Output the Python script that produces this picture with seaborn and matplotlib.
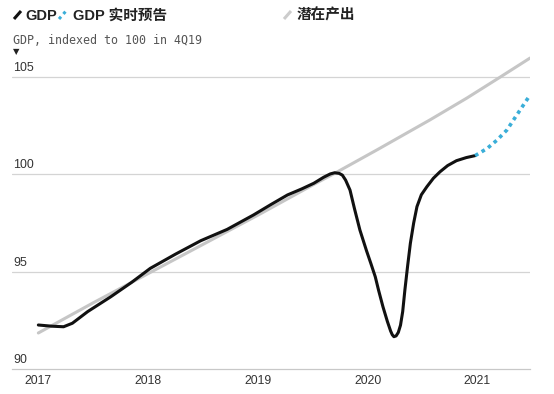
import numpy as np
import pandas as pd
import matplotlib.pyplot as plt
import matplotlib.transforms as mtransforms
from matplotlib.lines import Line2D
import seaborn as sns

# values (x in fractional years, GDP index 4Q19 = 100)
gdp_x = [2017.0, 2017.12, 2017.23, 2017.31, 2017.45, 2017.66, 2017.85, 2018.02,
         2018.25, 2018.48, 2018.72, 2018.96, 2019.12, 2019.27, 2019.40, 2019.51,
         2019.60, 2019.66, 2019.70, 2019.74, 2019.77, 2019.80, 2019.84, 2019.88,
         2019.93, 2019.99, 2020.03, 2020.07, 2020.10, 2020.14, 2020.18, 2020.21,
         2020.225, 2020.24, 2020.26, 2020.28, 2020.30, 2020.32, 2020.34, 2020.365,
         2020.39, 2020.42, 2020.45, 2020.49, 2020.54, 2020.60, 2020.66, 2020.73,
         2020.81, 2020.90, 2020.98]
gdp_y = [92.26, 92.20, 92.17, 92.35, 92.95, 93.71, 94.45, 95.17,
         95.90, 96.59, 97.17, 97.91, 98.45, 98.94, 99.25, 99.54,
         99.85, 100.02, 100.08, 100.05, 99.96, 99.70, 99.19, 98.25,
         97.14, 96.08, 95.42, 94.74, 94.05, 93.20, 92.45, 91.95,
         91.76, 91.66, 91.70, 91.88, 92.25, 92.95, 94.06, 95.30,
         96.46, 97.50, 98.34, 98.95, 99.36, 99.80, 100.13, 100.45,
         100.70, 100.86, 100.96]

nowcast_x = [2020.98, 2021.09, 2021.18, 2021.27, 2021.36, 2021.48]
nowcast_y = [100.96, 101.33, 101.76, 102.28, 103.05, 104.07]

potential_x = [2017.0, 2017.5, 2018.0, 2018.5, 2019.0, 2019.5, 2019.7, 2020.1,
               2020.57, 2020.9, 2021.21, 2021.48]
potential_y = [91.85, 93.40, 94.90, 96.40, 97.90, 99.45, 100.05, 101.30,
               102.80, 103.90, 105.00, 105.97]

year_ticks = [2017, 2018, 2019, 2020, 2021]
y_ticks = [90, 95, 100, 105]

sns.set_style("white")
plt.rcParams['font.family'] = ['Liberation Sans', 'Noto Sans CJK SC', 'DejaVu Sans']

fig = plt.figure(figsize=(5.54, 3.94), dpi=100)
ax = fig.add_axes([12 / 554, 25 / 394, 518 / 554, 315 / 394])

for y in y_ticks[1:]:
    ax.axhline(y, color='#d4d4d4', lw=0.9, zorder=0)

sns.lineplot(x=potential_x, y=potential_y, ax=ax, color='#c6c6c6', lw=2.2,
             estimator=None, sort=False, zorder=2)
sns.lineplot(x=gdp_x, y=gdp_y, ax=ax, color='#111111', lw=2.2,
             estimator=None, sort=False, zorder=3)
sns.lineplot(x=nowcast_x, y=nowcast_y, ax=ax, color='#3aaed8', lw=2.6,
             estimator=None, sort=False, zorder=3, dashes=False)
ax.lines[-1].set_dashes((1.0, 1.1))
for ln in ax.lines:
    ln.set_solid_joinstyle('round')
    ln.set_solid_capstyle('round')

ax.set_xlim(2016.76, 2021.48)
ax.set_ylim(90, 106.18)

for s in ['top', 'right', 'left']:
    ax.spines[s].set_visible(False)
ax.spines['bottom'].set_color('#c8c8c8')
ax.spines['bottom'].set_linewidth(0.9)

ax.set_xticks(year_ticks)
ax.set_xticklabels([str(y) for y in year_ticks], fontsize=8.8, color='#333333')
ax.tick_params(axis='x', direction='in', length=3, color='#c8c8c8', pad=4)
ax.set_yticks([])
ax.set_xlabel('')
ax.set_ylabel('')

# y labels sit above their gridlines at the left edge
trans = mtransforms.blended_transform_factory(ax.transAxes, ax.transData)
trans = trans + mtransforms.ScaledTranslation(0, 3 / 100, fig.dpi_scale_trans)
for y in y_ticks:
    ax.text(0.002, y, str(y), transform=trans, ha='left', va='bottom',
            fontsize=8.9, color='#333333')

# header: legend row
def px(x, y):
    return x / 554, 1 - y / 394

def icon(x0, color, dashes=None):
    a = px(x0, 19)
    b = px(x0 + 7, 11)
    ln = Line2D([a[0], b[0]], [a[1], b[1]], transform=fig.transFigure,
                color=color, lw=2.2, solid_capstyle='butt')
    if dashes:
        ln.set_dashes(dashes)
    fig.add_artist(ln)

icon(14, '#111111')
fig.text(*px(25, 15.5), 'GDP', fontsize=10.5, fontweight='bold', color='#222222',
         va='center', ha='left')
icon(59, '#3aaed8', (1.0, 1.2))
fig.text(*px(73, 15.5), 'GDP 实时预告', fontsize=10.5, fontweight='bold',
         color='#222222', va='center', ha='left')
icon(284, '#cccccc')
fig.text(*px(297, 15.5), '潜在产出', fontsize=10.5, fontweight='bold',
         color='#222222', va='center', ha='left')

fig.text(*px(13, 40), 'GDP, indexed to 100 in 4Q19', fontsize=8.4,
         family='DejaVu Sans Mono', color='#555555', va='center', ha='left')
fig.text(*px(13, 52), '▼', fontsize=6, family='DejaVu Sans', color='#222222',
         va='center', ha='left')

fig.savefig('out.png', dpi=100)
